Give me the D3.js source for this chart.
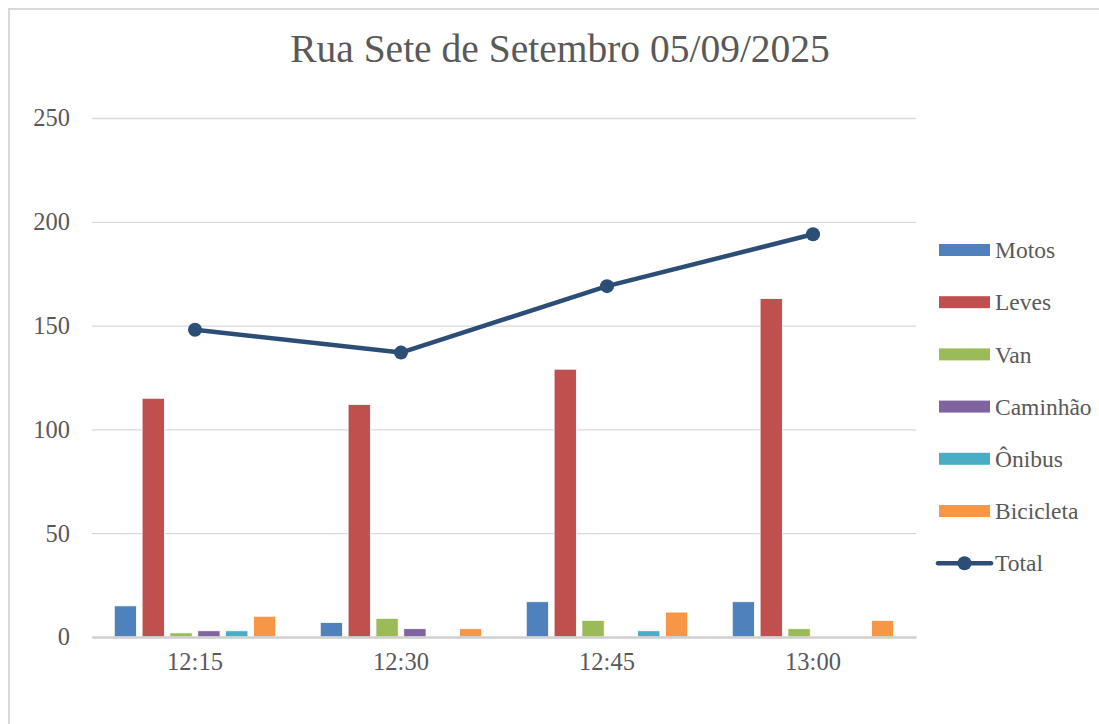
<!DOCTYPE html>
<meta charset="utf-8">
<html>
<head>
<style>
  body { margin: 0; background: #fff; }
  text { font-family: "Liberation Serif", "DejaVu Serif", serif; fill: #595959; }
</style>
</head>
<script src="https://cdn.jsdelivr.net/npm/d3@7"></script>
<body>
<div id="vis"></div>
<script>
  // data
  var times = ["12:15", "12:30", "12:45", "13:00"];
  var seriesNames = ["Motos", "Leves", "Van", "Caminhão", "Ônibus", "Bicicleta"];
  var motos = [15, 7, 17, 17];
  var leves = [115, 112, 129, 163];
  var van = [2, 9, 8, 4];
  var caminhao = [3, 4, 0, 0];
  var onibus = [3, 0, 3, 0];
  var bicicleta = [10, 4, 12, 8];
  var total = [148, 137, 169, 194];
  var yTicks = [0, 50, 100, 150, 200, 250];

  var seriesValues = [motos, leves, van, caminhao, onibus, bicicleta];
  var colors = ["#4f81bd", "#c0504d", "#9bbb59", "#8064a2", "#4bacc6", "#f79646"];
  var lineColor = "#2c4d75";

  var W = 1099, H = 724;
  var plot = {left: 92, right: 916, top: 118, bottom: 637};

  var svg = d3.select("#vis").append("svg")
    .attr("width", W)
    .attr("height", H);

  // chart border
  svg.append("rect")
    .attr("x", 9).attr("y", 9)
    .attr("width", W + 20).attr("height", H + 20)
    .style("fill", "none")
    .style("stroke", "#d9d9d9")
    .style("stroke-width", 2);

  var x0 = d3.scaleBand().domain(times).range([plot.left, plot.right]);
  var x1 = d3.scaleBand().domain(seriesNames).range([0, x0.bandwidth()])
    .paddingInner(0.2).paddingOuter(0.8);
  var y = d3.scaleLinear().domain([0, 250]).range([plot.bottom, plot.top]);

  // gridlines + y labels
  var yAxis = svg.append("g")
    .attr("transform", "translate(" + plot.left + ",0)")
    .call(d3.axisLeft(y).tickValues(yTicks).tickSize(-(plot.right - plot.left)).tickPadding(22));
  yAxis.select(".domain").remove();
  yAxis.selectAll(".tick line").style("stroke", "#d9d9d9").style("stroke-width", 1.3);
  yAxis.selectAll(".tick text").style("font-size", "24.5px").style("font-family", "Liberation Serif").attr("fill", "#595959");

  // bars
  var rows = times.map(function(t, i) {
    return {time: t, vals: seriesNames.map(function(s, j) { return {name: s, v: seriesValues[j][i], c: colors[j]}; })};
  });

  var groups = svg.selectAll(".grp")
    .data(rows)
    .enter().append("g")
    .attr("class", "grp")
    .attr("transform", function(d) { return "translate(" + x0(d.time) + ",0)"; });

  groups.selectAll("rect")
    .data(function(d) { return d.vals; })
    .enter().append("rect")
    .attr("x", function(d) { return x1(d.name); })
    .attr("width", x1.bandwidth())
    .attr("y", function(d) { return y(d.v); })
    .attr("height", function(d) { return y(0) - y(d.v); })
    .style("fill", function(d) { return d.c; })
    .style("stroke", "#fff")
    .style("stroke-width", 0.8);

  // x axis
  var xAxis = svg.append("g")
    .attr("transform", "translate(0," + plot.bottom + ")")
    .call(d3.axisBottom(x0).tickSize(0).tickPadding(16));
  xAxis.select(".domain").style("stroke", "#d0d0d0").style("stroke-width", 2.5);
  xAxis.selectAll(".tick text").style("font-size", "24.5px").style("font-family", "Liberation Serif").attr("fill", "#595959");

  // total line
  var valueline = d3.line()
    .x(function(d, i) { return x0(times[i]) + x0.bandwidth() / 2; })
    .y(function(d) { return y(d); });

  svg.append("path")
    .datum(total)
    .attr("d", valueline)
    .style("fill", "none")
    .style("stroke", lineColor)
    .style("stroke-width", 4.5)
    .style("stroke-linejoin", "round");

  svg.selectAll(".dot")
    .data(total)
    .enter().append("circle")
    .attr("class", "dot")
    .attr("r", 7)
    .attr("cx", function(d, i) { return x0(times[i]) + x0.bandwidth() / 2; })
    .attr("cy", function(d) { return y(d); })
    .style("fill", lineColor);

  // title
  var title = svg.append("text")
    .attr("x", 560)
    .attr("y", 62)
    .style("text-anchor", "middle")
    .style("font-size", "40px")
    .text("Rua Sete de Setembro 05/09/2025");
  var tw = title.node().getComputedTextLength();
  title.style("font-size", (40 * 540 / tw) + "px");

  // legend
  var legend = svg.append("g");
  var legendRows = seriesNames.concat(["Total"]);
  legendRows.forEach(function(name, i) {
    var ly = 250 + i * 52.2;
    if (i < seriesNames.length) {
      legend.append("rect")
        .attr("x", 939).attr("y", ly - 6)
        .attr("width", 51).attr("height", 12)
        .style("fill", colors[i]);
    } else {
      legend.append("line")
        .attr("x1", 938).attr("x2", 991)
        .attr("y1", ly).attr("y2", ly)
        .style("stroke", lineColor).style("stroke-width", 4.5)
        .style("stroke-linecap", "round");
      legend.append("circle")
        .attr("cx", 964.5).attr("cy", ly).attr("r", 7)
        .style("fill", lineColor);
    }
    legend.append("text")
      .attr("x", 995).attr("y", ly)
      .attr("dy", "0.35em")
      .style("font-size", "23.5px")
      .text(name);
  });
</script>
</body>
</html>
